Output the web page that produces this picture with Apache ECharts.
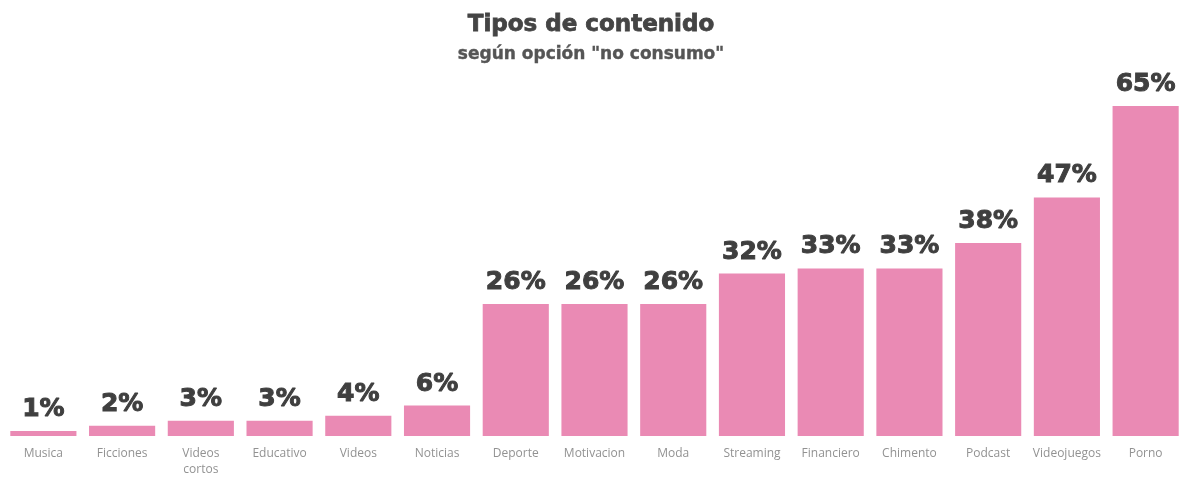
<!DOCTYPE html>
<html>
<head>
<meta charset="utf-8">
<script src="https://cdn.jsdelivr.net/npm/echarts@6/dist/echarts.min.js"></script>
<style>
  html, body { margin: 0; padding: 0; background: #fff; overflow: hidden; }
  #chart { width: 1192px; height: 497px; }
</style>
</head>
<body>
<div id="chart"></div>
<script>
// Content types and share of respondents choosing "no consumo"
const categories = ['Musica', 'Ficciones', 'Videos\ncortos', 'Educativo', 'Videos', 'Noticias',
  'Deporte', 'Motivacion', 'Moda', 'Streaming', 'Financiero', 'Chimento', 'Podcast',
  'Videojuegos', 'Porno'];
const values = [1, 2, 3, 3, 4, 6, 26, 26, 26, 32, 33, 33, 38, 47, 65];

const chart = echarts.init(document.getElementById('chart'));
chart.setOption({
  backgroundColor: '#ffffff',
  title: {
    text: 'Tipos de contenido',
    subtext: 'según opción "no consumo"',
    left: 586,
    textAlign: 'center',
    top: 9,
    itemGap: 8,
    textStyle: {
      fontFamily: 'DejaVu Sans', fontWeight: 'bold', fontSize: 23, color: '#444444',
      textBorderColor: '#444444', textBorderWidth: 0.8
    },
    subtextStyle: {
      fontFamily: 'DejaVu Sans', fontWeight: 'bold', fontSize: 17, color: '#555555',
      textBorderColor: '#555555', textBorderWidth: 0.4
    }
  },
  grid: { left: 4, width: 1181, top: 106, bottom: 61, containLabel: false },
  xAxis: {
    type: 'category',
    data: categories,
    axisLine: { show: false },
    axisTick: { show: false },
    axisLabel: {
      interval: 0,
      margin: 10,
      fontFamily: 'Open Sans',
      fontSize: 12,
      lineHeight: 16,
      color: '#929292'
    }
  },
  yAxis: {
    type: 'value',
    min: 0,
    max: 65,
    show: false,
    splitLine: { show: false }
  },
  series: [{
    type: 'bar',
    data: values,
    barCategoryGap: '16%',
    itemStyle: { color: '#EA8AB4' },
    label: {
      show: true,
      position: 'top',
      distance: 9,
      formatter: p => p.value + '%',
      fontFamily: 'DejaVu Sans',
      fontWeight: 'bold',
      fontSize: 25,
      color: '#3f3f3f',
      textBorderColor: '#3f3f3f',
      textBorderWidth: 1
    }
  }]
});
</script>
</body>
</html>
